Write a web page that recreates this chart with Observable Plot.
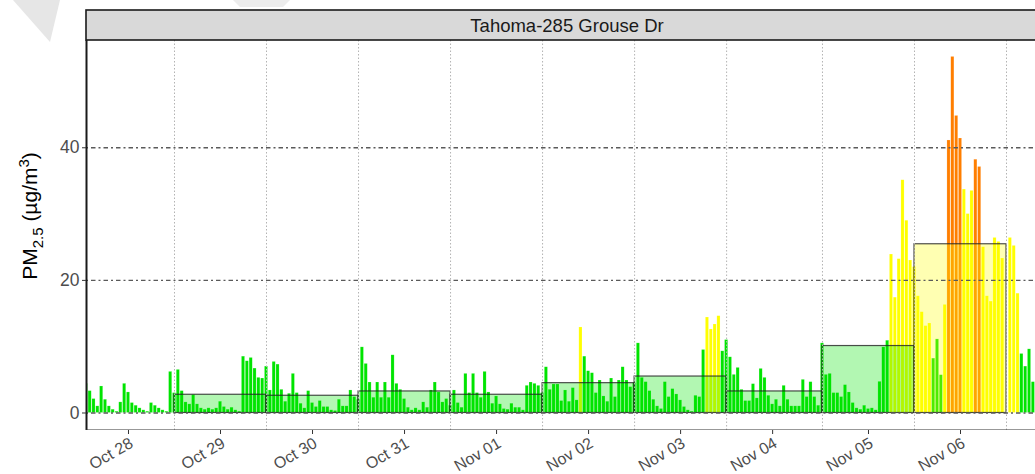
<!DOCTYPE html>
<html>
<head>
<meta charset="utf-8">
<script src="https://cdn.jsdelivr.net/npm/d3@7"></script>
<script src="https://cdn.jsdelivr.net/npm/@observablehq/plot@0.6"></script>
<style>
html,body{margin:0;padding:0;background:#fff;overflow:hidden;}
#chart{position:relative;width:1035px;height:474px;overflow:hidden;}
</style>
</head>
<body>
<div id="chart"></div>
<script>
// ---------------- data ----------------
const siteName = "Tahoma-285 Grouse Dr";
const yTicks = [0, 20, 40];
const dayLabels = ["Oct 28","Oct 29","Oct 30","Oct 31","Nov 01","Nov 02","Nov 03","Nov 04","Nov 05","Nov 06"];
// local midnights (America/Los_Angeles; DST ends Nov 04)
const dayStarts = [
  "2018-10-28T00:00:00-07:00","2018-10-29T00:00:00-07:00","2018-10-30T00:00:00-07:00",
  "2018-10-31T00:00:00-07:00","2018-11-01T00:00:00-07:00","2018-11-02T00:00:00-07:00",
  "2018-11-03T00:00:00-07:00","2018-11-04T00:00:00-07:00","2018-11-05T00:00:00-08:00",
  "2018-11-06T00:00:00-08:00","2018-11-07T00:00:00-08:00"
];
// tick positions (mid-day)
const tickTimes = [
  "2018-10-28T12:00:00-07:00","2018-10-29T12:00:00-07:00","2018-10-30T12:00:00-07:00",
  "2018-10-31T12:00:00-07:00","2018-11-01T12:00:00-07:00","2018-11-02T12:00:00-07:00",
  "2018-11-03T12:00:00-07:00","2018-11-04T12:00:00-07:00","2018-11-05T12:00:00-08:00",
  "2018-11-06T12:00:00-08:00"
];
const firstHourOfDay = [1,0,0,0,0,0,0,0,0,0,0];
// hourly PM2.5 (µg/m³), one array per local day
const pm_oct28 = [4.4,3.3,2.1,1.0,4.0,2.0,1.0,0.5,0.2,1.6,4.4,3.1,1.5,1.1,0.7,0.4,0.2,1.5,1.1,0.7,0.4,0.2,6.2];
const pm_oct29 = [3.0,6.5,3.3,1.6,1.3,2.7,1.3,0.7,0.5,0.7,0.5,0.7,1.7,0.9,0.5,0.8,0.4,0.2,8.5,7.8,8.3,6.7,5.3,5.2];
const pm_oct30 = [7.0,3.4,7.7,7.3,3.5,1.7,2.9,5.9,3.0,1.4,0.7,3.3,1.5,0.9,1.8,0.9,0.9,0.4,0.3,2.0,1.0,1.0,3.4,2.4];
const pm_oct31 = [2.0,9.9,7.4,4.6,2.3,4.6,2.3,4.6,2.3,8.7,4.4,3.5,2.1,0.8,0.4,0.7,0.4,1.6,0.8,3.4,4.6,3.1,1.6,2.1];
const pm_nov01 = [1.1,3.4,1.5,0.8,5.9,3.0,5.9,3.0,2.3,6.2,3.1,1.4,2.5,1.3,0.6,0.5,1.4,0.8,0.8,0.4,4.1,4.6,4.4,4.1];
const pm_nov02 = [3.0,6.9,3.5,4.3,4.3,1.8,3.4,1.7,3.75,1.9,12.9,8.5,6.3,6.0,3.0,4.9,2.5,1.7,5.2,2.4,4.9,6.9,4.9,3.9];
const pm_nov03 = [4.5,10.5,5.3,4.65,3.3,2.0,1.0,0.6,4.65,2.4,3.6,2.8,1.9,0.9,0.4,0.2,2.6,2.4,9.5,14.4,12.6,13.35,14.6,9.3];
const pm_nov04 = [11.0,8.4,5.75,6.8,3.5,1.8,1.8,4.35,2.2,6.65,5.3,2.6,1.3,2.0,1.0,4.1,2.0,1.0,1.0,1.0,5.0,2.4,4.65,2.4,1.1];
const pm_nov05 = [10.5,5.75,5.9,3.0,3.0,2.4,4.2,3.1,1.5,0.7,0.5,1.1,0.6,0.7,0.4,4.7,9.9,10.9,23.9,17.4,23.2,35.1,29.0,23.0];
const pm_nov06 = [22.0,17.6,15.2,13.1,13.5,8.2,11.1,5.7,16.3,41.1,53.7,44.8,41.4,33.7,30.0,33.5,38.2,37.1,25.0,17.6,16.8,26.4,25.8,23.3];
const pm_nov07 = [null,26.4,25.2,18.0,8.9,7.0,9.6,4.65];
const hourlyByDay = [pm_oct28,pm_oct29,pm_oct30,pm_oct31,pm_nov01,pm_nov02,pm_nov03,pm_nov04,pm_nov05,pm_nov06,pm_nov07];
// daily averages Oct 29 .. Nov 06
const dailyAvgDays = [1,2,3,4,5,6,7,8,9];
const dailyAvg = [2.75,2.6,3.25,2.75,4.5,5.5,3.25,10.1,25.45];
// AQI categories
const aqiBreaks = [12.0, 35.4];
const aqiColors = ["#00E400","#FFFF00","#FF7E00"];
const xDomain = ["2018-10-28T01:03:00-07:00","2018-11-07T10:57:00-08:00"];
const yDomain = [-2.64, 56.18];

// ---------------- build tables ----------------
const HOUR = 3600e3;
const hourly = [];
hourlyByDay.forEach((vals, i) => {
  const t0 = new Date(dayStarts[i]).getTime() + firstHourOfDay[i]*HOUR;
  vals.forEach((v, j) => { if (v != null) hourly.push({t: t0 + j*HOUR, pm: v}); });
});
const aqiColor = v => v > aqiBreaks[1] ? aqiColors[2] : v > aqiBreaks[0] ? aqiColors[1] : aqiColors[0];
const daily = dailyAvgDays.map((di, k) => ({
  start: new Date(dayStarts[di]), end: new Date(dayStarts[di+1]), pm: dailyAvg[k]
}));
const boundaries = dayStarts.slice(1).map(s => new Date(s));
const ticks = tickTimes.map(s => new Date(s));
const xd = xDomain.map(s => new Date(s));

const font = "'Liberation Sans', Arial, Helvetica, sans-serif";

const plot = Plot.plot({
  width: 1035, height: 474,
  marginLeft: 86, marginRight: 0, marginTop: 40, marginBottom: 44,
  x: {type: "utc", domain: xd, range: [86, 1048], axis: null},
  y: {domain: yDomain, axis: null},
  style: {fontFamily: font, background: "white", overflow: "hidden"},
  marks: [
    Plot.rect(hourly, {
      x1: d => new Date(d.t - 0.41*HOUR), x2: d => new Date(d.t + 0.41*HOUR),
      y1: 0, y2: "pm", fill: d => aqiColor(d.pm),
      stroke: "#ffffff", strokeOpacity: 0.35, strokeWidth: 0.5, clip: true
    }),
    Plot.rect(daily, {
      x1: "start", x2: "end", y1: 0, y2: "pm",
      fill: d => aqiColor(d.pm), fillOpacity: 0.3,
      stroke: "#222", strokeOpacity: 0.8, strokeWidth: 1.2, clip: true
    }),
    Plot.ruleX(boundaries, {stroke: "#b3b3b3", strokeWidth: 1, strokeDasharray: "1.5,2"}),
    Plot.ruleY(yTicks, {stroke: "#5a5a5a", strokeWidth: 1.4, strokeDasharray: "2,3,4.5,3", clip: true}),
    Plot.ruleX([xd[0]], {stroke: "#1a1a1a", strokeWidth: 2}),
    Plot.ruleY([yDomain[0]], {stroke: "#333", strokeWidth: 2, clip: true}),
    Plot.axisY(yTicks, {anchor: "left", tickSize: 4, tickPadding: 3, fontSize: 17.5, color: "#4d4d4d", stroke: "#333", label: null}),
    Plot.axisX(ticks, {anchor: "bottom", tickSize: 4, tickFormat: () => "", stroke: "#333", label: null}),
    Plot.text(ticks, {
      x: d => d, text: (d, i) => dayLabels[i], frameAnchor: "bottom", dy: 6,
      rotate: -30, textAnchor: "end", lineAnchor: "top", fontSize: 16, fill: "#4d4d4d"
    })
  ]
});

document.getElementById("chart").appendChild(plot);

// strip, title, decorations
const svg = d3.select(plot);
const deco = svg.insert("g", ":first-child");
deco.append("polygon").attr("points", "13,0 60,0 50,42").attr("fill", "#e6e6e6");
deco.append("polygon").attr("points", "233,0 290,0 283,7 240,7").attr("fill", "#ececec");

const strip = svg.append("g");
strip.append("rect").attr("x", 86).attr("y", 10).attr("width", 962).attr("height", 30)
  .attr("fill", "#d9d9d9").attr("stroke", "#1a1a1a").attr("stroke-width", 1.6);
strip.append("text").attr("x", 567).attr("y", 25).attr("text-anchor", "middle")
  .attr("dominant-baseline", "central").attr("font-size", 18.5).attr("fill", "#1a1a1a")
  .attr("font-family", font).text(siteName);

const yt = svg.append("text").attr("transform", "translate(37,216) rotate(-90)")
  .attr("text-anchor", "middle").attr("font-size", 21).attr("fill", "#000").attr("font-family", font);
yt.append("tspan").text("PM");
yt.append("tspan").attr("font-size", 15).attr("dy", 6).text("2.5");
yt.append("tspan").attr("dy", -6).text(" (µg/m");
yt.append("tspan").attr("font-size", 15).attr("dy", -8).text("3");
yt.append("tspan").attr("dy", 8).text(")");
</script>
</body>
</html>
